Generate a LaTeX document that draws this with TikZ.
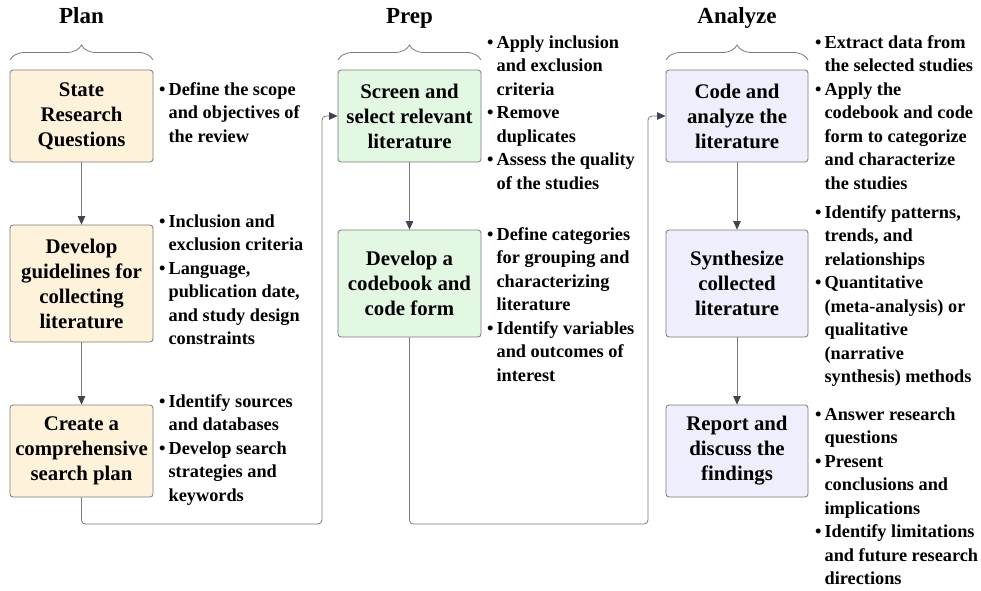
\documentclass[tikz,border=0pt]{standalone}
\usepackage{fontspec}
\setmainfont{LiberationSerif}[Extension=.ttf,UprightFont=*-Regular,BoldFont=*-Bold,ItalicFont=*-Italic,BoldItalicFont=*-BoldItalic]
\usetikzlibrary{decorations.pathreplacing,arrows.meta}
\definecolor{cream}{HTML}{FEF2DB}
\definecolor{mint}{HTML}{E3F8E3}
\definecolor{lav}{HTML}{EEEEFC}
\definecolor{edge}{HTML}{7A7A7A}
\definecolor{tipc}{HTML}{3F4652}
\newcommand{\blist}[1]{\begin{tabular}[t]{@{}c@{\hspace{3pt}}l@{}}#1\end{tabular}}
\begin{document}
\begin{tikzpicture}[x=1pt,y=-1pt,
  box/.style={draw=edge, line width=0.8pt, rounded corners=3pt, minimum width=143pt,
    align=center, font=\fontsize{20.8}{25}\selectfont\bfseries, inner sep=0pt},
  ttl/.style={anchor=base, font=\fontsize{23}{28}\selectfont\bfseries, inner sep=0pt},
  bul/.style={anchor=base west, inner sep=0pt, font=\fontsize{18.3}{23.5}\selectfont\bfseries},
  brc/.style={draw=edge, line width=0.8pt, decorate, decoration={brace, amplitude=15pt}},
  conn/.style={draw=edge, line width=0.8pt, -{Triangle[length=8.5pt,width=7.5pt,color=tipc]}}
]
\path[use as bounding box] (0,0) rectangle (981,590);

% titles
\node[ttl] (tplan) at (81.5,23) {Plan};
\node[ttl] (tprep) at (409.5,23) {Prep};
\node[ttl] (tana) at (737,23) {Analyze};

% braces
\draw[brc] (10,60) -- (153,60);
\draw[brc] (338,60) -- (481,60);
\draw[brc] (666,60) -- (808,60);

% boxes
\node[box, fill=cream, minimum height=92pt] (b1) at (81.5,116) {State\\Research\\Questions};
\node[box, fill=cream, minimum height=117pt] (b2) at (81.5,283.5) {Develop\\guidelines for\\collecting\\literature};
\node[box, fill=cream, minimum height=92pt] (b3) at (81.5,451) {Create a\\comprehensive\\search plan};

\node[box, fill=mint, minimum height=92pt] (b4) at (409.5,116) {Screen and\\select relevant\\literature};
\node[box, fill=mint, minimum height=107pt] (b5) at (409.5,283.5) {Develop a\\codebook and\\code form};

\node[box, fill=lav, minimum width=142pt, minimum height=92pt] (b6) at (737,116) {Code and\\analyze the\\literature};
\node[box, fill=lav, minimum width=142pt, minimum height=107pt] (b7) at (737,283.5) {Synthesize\\collected\\literature};
\node[box, fill=lav, minimum width=142pt, minimum height=92pt] (b8) at (737,451) {Report and\\discuss the\\findings};

% bullets
\node[bul] (p1) at (159,95) {\blist{\textbullet & Define the scope\\ & and objectives of\\ & the review}};
\node[bul] (p2) at (159,227) {\blist{\textbullet & Inclusion and\\ & exclusion criteria\\ \textbullet & Language,\\ & publication date,\\ & and study design\\ & constraints}};
\node[bul] (p3) at (159,407) {\blist{\textbullet & Identify sources\\ & and databases\\ \textbullet & Develop search\\ & strategies and\\ & keywords}};

\node[bul] (p4) at (487,48) {\blist{\textbullet & Apply inclusion\\ & and exclusion\\ & criteria\\ \textbullet & Remove\\ & duplicates\\ \textbullet & Assess the quality\\ & of the studies}};
\node[bul] (p5) at (487,240) {\blist{\textbullet & Define categories\\ & for grouping and\\ & characterizing\\ & literature\\ \textbullet & Identify variables\\ & and outcomes of\\ & interest}};

\node[bul] (p6) at (815,48) {\blist{\textbullet & Extract data from\\ & the selected studies\\ \textbullet & Apply the\\ & codebook and code\\ & form to categorize\\ & and characterize\\ & the studies}};
\node[bul] (p7) at (815,218) {\blist{\textbullet & Identify patterns,\\ & trends, and\\ & relationships\\ \textbullet & Quantitative\\ & (meta-analysis) or\\ & qualitative\\ & (narrative\\ & synthesis) methods}};
\node[bul] (p8) at (815,420) {\blist{\textbullet & Answer research\\ & questions\\ \textbullet & Present\\ & conclusions and\\ & implications\\ \textbullet & Identify limitations\\ & and future research\\ & directions}};

% vertical arrows
\draw[conn] (b1) -- (b2);
\draw[conn] (b2) -- (b3);
\draw[conn] (b4) -- (b5);
\draw[conn] (b6) -- (b7);
\draw[conn] (b7) -- (b8);

% cross-column connectors
\coordinate (k1) at (81.5,524);
\coordinate (k2) at (322,524);
\coordinate (k3) at (409.5,524);
\coordinate (k4) at (648,524);
\draw[conn, rounded corners=4pt] (b3.south) -- (k1) -- (k2) |- (b4.west);
\draw[conn, rounded corners=4pt] (b5.south) -- (k3) -- (k4) |- (b6.west);
\end{tikzpicture}
\end{document}
